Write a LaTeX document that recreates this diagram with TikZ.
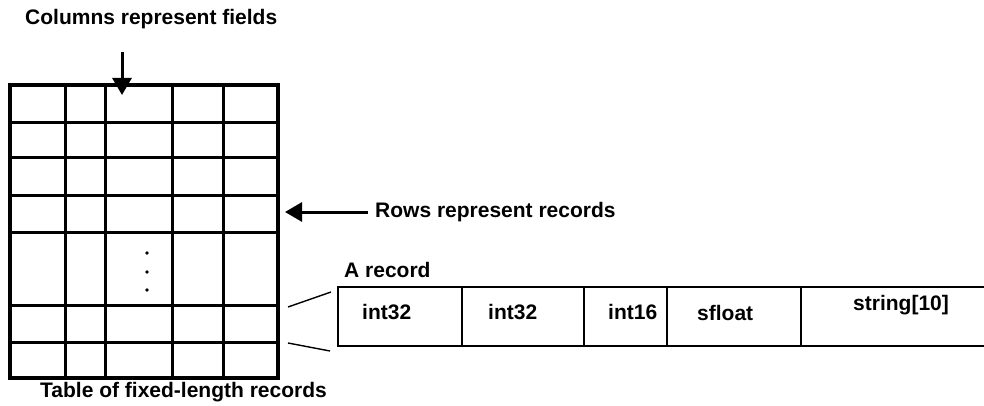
\documentclass[tikz,border=0pt]{standalone}
\usepackage{fontspec}
\setmainfont{Liberation Sans}
\usetikzlibrary{arrows.meta}

\begin{document}
\begin{tikzpicture}[x=1pt,y=-1pt,
  lbl/.style={font=\fontsize{21}{25}\selectfont\bfseries, inner sep=0pt, anchor=base west},
  gridline/.style={line width=3pt},
  gridframe/.style={line width=3.2pt},
  recline/.style={line width=2.2pt},
  slant/.style={line width=1.4pt},
  pointer/.style={line width=3pt, -{Triangle[length=17pt,width=19pt]}},
  dotmark/.style={circle, fill=black, inner sep=0pt, minimum size=3.6pt}
]
\useasboundingbox (0,0) rectangle (984,406);

% table of records: horizontal row lines and vertical column lines
\foreach \y in {123,158,195,232,305,342}
  \draw[gridline] (10,\y) -- (278,\y);
\foreach \x in {65,105,172,223}
  \draw[gridline] (\x,85) -- (\x,378);
\draw[gridframe] (10,85) rectangle (278,378);

% vertical ellipsis in the gap row
\node[dotmark] (d1) at (147,253) {};
\node[dotmark] (d2) at (147,272) {};
\node[dotmark] (d3) at (147,290) {};

% captions
\node[lbl] (cols) at (25,25) {Columns represent fields};
\node[lbl] (rows) at (375,217) {Rows represent records};
\node[lbl] (tbl) at (40,397) {Table of fixed-length records};
\node[lbl] (arec) at (344,277) {A record};

% pointers
\coordinate (colsTail) at (122,52);
\coordinate (colsTip) at (122,95);
\draw[pointer] (colsTail) -- (colsTip);
\coordinate (rowsTail) at (368,212);
\coordinate (rowsTip) at (285,212);
\draw[pointer] (rowsTail) -- (rowsTip);

% one record, split into its fields
\draw[recline] (988,287) -- (338,287) -- (338,346) -- (988,346);
\foreach \x in {462,584,667,801}
  \draw[recline] (\x,287) -- (\x,346);

\node[lbl] (f1) at (362,319) {int32};
\node[lbl] (f2) at (488,319) {int32};
\node[lbl] (f3) at (608,319) {int16};
\node[lbl] (f4) at (697,320) {sfloat};
\node[lbl] (f5) at (853,310) {string[10]};

% expansion lines from the table row to the record
\coordinate (rowTop) at (288,307);
\coordinate (recTop) at (331,292);
\coordinate (rowBot) at (288,343);
\coordinate (recBot) at (330,351);
\draw[slant] (rowTop) -- (recTop);
\draw[slant] (rowBot) -- (recBot);
\end{tikzpicture}
\end{document}
